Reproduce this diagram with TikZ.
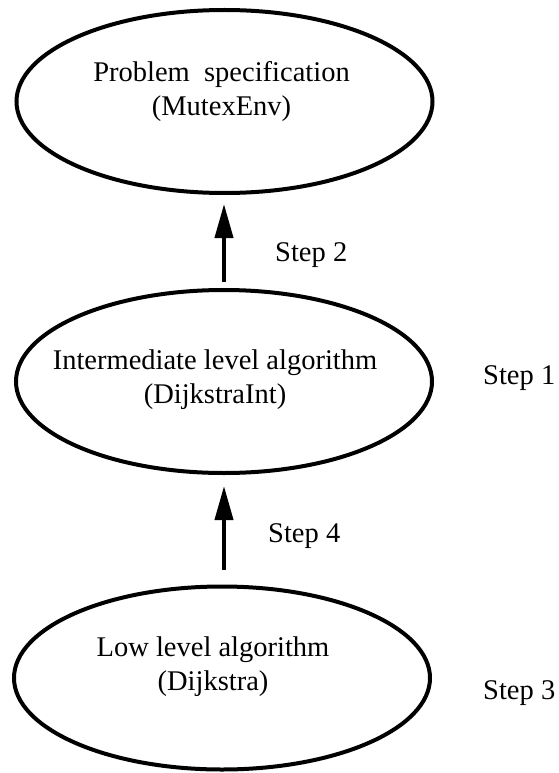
\documentclass[tikz,border=0pt]{standalone}
\usepackage{fontspec}
\setmainfont{Liberation Serif}
\usetikzlibrary{arrows.meta,shapes.geometric}

\begin{document}
\begin{tikzpicture}[x=1pt,y=-1pt,
    level/.style={ellipse, draw, line width=4pt, minimum width=416pt, minimum height=183pt, inner sep=0pt},
    leveltext/.style={align=center, inner sep=0pt, font=\fontsize{28.5}{34}\selectfont},
    steplabel/.style={anchor=base west, inner sep=0pt, font=\fontsize{28.5}{34}\selectfont},
    refine/.style={-{Triangle[length=34pt,width=18pt]}, line width=4pt}]
    		\newcommand{\leftcol}{275}
    		\newcommand{\rightcol}{483}

    		\useasboundingbox (0,0) rectangle (558,773);

    		% levels
    		\node[level] (spec) at (224.5,101.5) {};
    		\node[level] (inter) at (224,381.5) {};
    		\node[level] (low) at (222,678) {};

    		\node[leveltext] (spectext) at (221.5,92) {Problem\ \ specification\\(MutexEnv)};
    		\node[leveltext] (intertext) at (215,380) {Intermediate level algorithm\\(DijkstraInt)};
    		\node[leveltext] (lowtext) at (213,667) {Low level algorithm\\(Dijkstra)};

    		% arrows
    		\draw[refine, shorten <=6pt, shorten >=9pt] (inter.north) -- (inter.north |- spec.south);
    		\draw[refine, shorten <=15pt, shorten >=11pt] (low.north -| inter.north) -- (inter.south);

    		% steps
    		\node[steplabel] (step2) at (\leftcol,261) {Step 2};
    		\node[steplabel] (step1) at (\rightcol,384) {Step 1};
    		\node[steplabel] (step4) at (\leftcol-7,542) {Step 4};
    		\node[steplabel] (step3) at (\rightcol,699) {Step 3};

\end{tikzpicture}
\end{document}
